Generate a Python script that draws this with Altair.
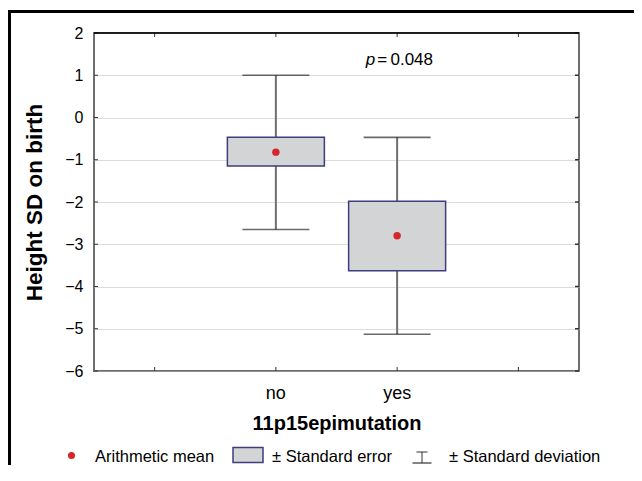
import altair as alt
import pandas as pd

# ---- data ----
slots = ["pad_l", "no", "yes", "pad_r"]          # x band slots (outer ones are empty)
categories = ["no", "yes"]
means = [-0.82, -2.80]
se_low = [-1.15, -3.63]
se_high = [-0.47, -1.98]
sd_low = [-2.65, -5.13]
sd_high = [1.00, -0.47]
yticks = [-6, -5, -4, -3, -2, -1, 0, 1, 2]
p_label_cat = "yes"
p_label_y = 1.24

FONT = "Liberation Sans"
W, H = 485, 338

df = pd.DataFrame({
    "cat": categories, "mean": means, "se_lo": se_low, "se_hi": se_high,
    "sd_lo": sd_low, "sd_hi": sd_high,
})
xt = pd.DataFrame({"cat": slots})
yt = pd.DataFrame({"v": yticks})
one = pd.DataFrame({"k": [0]})

xscale = alt.Scale(domain=slots, paddingInner=0, paddingOuter=0)
yscale = alt.Scale(domain=[-6, 2], nice=False)

x_axis = alt.Axis(
    title="11p15epimutation", labelExpr="(datum.value == 'no' || datum.value == 'yes') ? datum.value : ''",
    ticks=False, tickSize=0, domain=False, grid=False, labelAngle=0,
    labelFont=FONT, labelFontSize=18, labelColor="black", labelBaseline="middle", labelPadding=22,
    titleFont=FONT, titleFontSize=20, titleFontWeight="bold", titleColor="black",
    titleX=W / 2, titleY=52, titleBaseline="middle", titleAlign="center",
)
y_axis = alt.Axis(
    title="Height SD on birth", values=yticks, format="d",
    ticks=False, tickSize=0, domain=False, grid=True,
    gridColor="#b8b8b8", gridDash=[1, 1], gridWidth=1,
    labelFont=FONT, labelFontSize=16, labelColor="black", labelPadding=11,
    titleFont=FONT, titleFontSize=22.5, titleFontWeight="bold", titleColor="black",
    titleX=-60, titleY=H / 2, titleBaseline="middle", titleAlign="center", titleAngle=270,
)

base = alt.Chart(df)

axes_layer = base.mark_point(opacity=0).encode(
    x=alt.X("cat:N", scale=xscale, axis=x_axis),
    y=alt.Y("mean:Q", scale=yscale, axis=y_axis),
)

whisk = base.mark_rule(color="#6f6f6f", strokeWidth=2).encode(
    x=alt.X("cat:N", scale=xscale), y=alt.Y("sd_lo:Q", scale=yscale), y2="sd_hi:Q")
cap_lo = base.mark_tick(color="#2b2b2b", size=67, thickness=1.6).encode(
    x=alt.X("cat:N", scale=xscale), y=alt.Y("sd_lo:Q", scale=yscale))
cap_hi = base.mark_tick(color="#2b2b2b", size=67, thickness=1.6).encode(
    x=alt.X("cat:N", scale=xscale), y=alt.Y("sd_hi:Q", scale=yscale))
box = base.mark_bar(width=alt.RelativeBandSize(0.8), fill="#d3d4d6", stroke="#3d3d7e",
                    strokeWidth=1.5).encode(
    x=alt.X("cat:N", scale=xscale), y=alt.Y("se_lo:Q", scale=yscale), y2="se_hi:Q")
dot = base.mark_circle(size=55, color="#d5262c", opacity=1).encode(
    x=alt.X("cat:N", scale=xscale), y=alt.Y("mean:Q", scale=yscale))

# inward ticks on all four sides
tick_top = alt.Chart(xt).mark_rule(color="#333", strokeWidth=1).encode(
    x=alt.X("cat:N", scale=xscale), y=alt.value(0), y2=alt.value(4))
tick_bot = alt.Chart(xt).mark_rule(color="#333", strokeWidth=1).encode(
    x=alt.X("cat:N", scale=xscale), y=alt.value(H - 4), y2=alt.value(H))
tick_l = alt.Chart(yt).mark_rule(color="#333", strokeWidth=1).encode(
    y=alt.Y("v:Q", scale=yscale), x=alt.value(0), x2=alt.value(4))
tick_r = alt.Chart(yt).mark_rule(color="#333", strokeWidth=1.5).encode(
    y=alt.Y("v:Q", scale=yscale), x=alt.value(W - 4), x2=alt.value(W))
top_edge = alt.Chart(one).mark_rule(color="black", strokeWidth=1.5).encode(
    x=alt.value(0), x2=alt.value(W), y=alt.value(0))

# p-value annotation
pdf = pd.DataFrame({"cat": [p_label_cat], "y": [p_label_y]})
p_it = alt.Chart(pdf).mark_text(text="p", font=FONT, fontSize=17, fontStyle="italic",
                                 align="right", baseline="alphabetic", dx=-22).encode(
    x=alt.X("cat:N", scale=xscale), y=alt.Y("y:Q", scale=yscale))
p_val = alt.Chart(pdf).mark_text(text="=\u20090.048", font=FONT, fontSize=17,
                                  align="left", baseline="alphabetic", dx=-20).encode(
    x=alt.X("cat:N", scale=xscale), y=alt.Y("y:Q", scale=yscale))

# manual legend below the plot
LY = 424
leg = alt.Chart(one)
leg_dot = leg.mark_circle(size=50, color="#d5262c", opacity=1).encode(
    x=alt.value(-22.5), y=alt.value(LY - 1.5))
leg_t1 = leg.mark_text(text="Arithmetic mean", font=FONT, fontSize=16.5, align="left",
                       baseline="middle").encode(x=alt.value(1), y=alt.value(LY))
leg_box = leg.mark_rect(fill="#d3d4d6", stroke="#3d3d7e", strokeWidth=1.5).encode(
    x=alt.value(139), x2=alt.value(169), y=alt.value(414.5), y2=alt.value(429.5))
leg_t2 = leg.mark_text(text="\u00b1 Standard error", font=FONT, fontSize=16.5, align="left",
                       baseline="middle").encode(x=alt.value(178), y=alt.value(LY))
leg_wv = leg.mark_rule(color="#333", strokeWidth=1).encode(
    x=alt.value(328), y=alt.value(419), y2=alt.value(430))
leg_wt = leg.mark_rule(color="#333", strokeWidth=1).encode(
    x=alt.value(322.5), x2=alt.value(333.5), y=alt.value(419))
leg_wb = leg.mark_rule(color="#333", strokeWidth=1.2).encode(
    x=alt.value(318.5), x2=alt.value(337.5), y=alt.value(430))
leg_t3 = leg.mark_text(text="\u00b1 Standard deviation", font=FONT, fontSize=16.5, align="left",
                       baseline="middle").encode(x=alt.value(355), y=alt.value(LY))

# outer frame: only the left and top edges fall inside the picture
frame_l = leg.mark_rule(color="black", strokeWidth=3).encode(
    x=alt.value(-84.5), y=alt.value(-23), y2=alt.value(480))
frame_t = leg.mark_rule(color="black", strokeWidth=3).encode(
    x=alt.value(-86), x2=alt.value(W + 55), y=alt.value(-21.5))

chart = alt.layer(
    axes_layer, whisk, cap_lo, cap_hi, box, dot,
    tick_top, tick_bot, tick_l, tick_r, top_edge,
    p_it, p_val,
    leg_dot, leg_t1, leg_box, leg_t2, leg_wv, leg_wt, leg_wb, leg_t3,
    frame_l, frame_t,
).properties(
    width=W, height=H,
    autosize=alt.AutoSizeParams(type="none"),
    padding={"left": 86, "top": 25, "right": 55, "bottom": 94},
    background="white",
).configure_view(
    stroke="#6e6e6e", strokeWidth=2
)

chart.save("out.html", embed_options={"renderer": "svg", "actions": False})
